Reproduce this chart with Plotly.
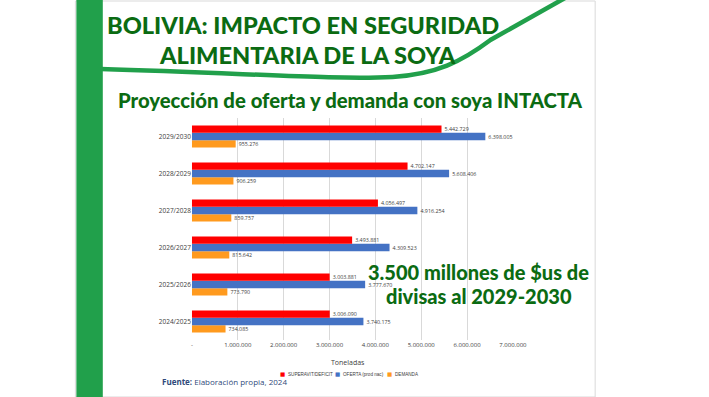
import plotly.graph_objects as go

W, H = 709, 397

categories = ["2024/2025", "2025/2026", "2026/2027", "2027/2028", "2028/2029", "2029/2030"]
superavit = [3006090, 3003881, 3493881, 4056497, 4702147, 5442729]
oferta = [3740175, 3777670, 4309523, 4916254, 5608406, 6398005]
demanda = [734085, 773790, 815642, 859757, 906259, 955276]
series_names = ["SUPERAVIT/DEFICIT", "OFERTA (prod nac)", "DEMANDA"]
tick_vals = [0, 1000000, 2000000, 3000000, 4000000, 5000000, 6000000, 7000000]
tick_text = ["-", "1.000.000", "2.000.000", "3.000.000", "4.000.000", "5.000.000", "6.000.000", "7.000.000"]

RED, BLUE, ORANGE = "#FF0000", "#4472C4", "#FF9A1E"
GREEN_BAR = "#21A04B"
DARK_GREEN = "#0B6B12"
HEAVY = "Lato Black, Lato Heavy, Lato"


def px(x):
    return x / W


def py(y):
    return 1 - y / H


fig = go.Figure()
for name, vals, col in [(series_names[2], demanda, ORANGE),
                        (series_names[1], oferta, BLUE),
                        (series_names[0], superavit, RED)]:
    fig.add_trace(go.Bar(
        y=categories, x=vals, orientation="h", name=name,
        marker=dict(color=col, line=dict(width=0)),
        texttemplate="%{x:,.0f}", textposition="outside",
        textfont=dict(size=6.5, color="#404040", family="Open Sans"),
        cliponaxis=False, showlegend=False,
    ))

shapes = []
shapes.append(dict(type="rect", xref="paper", yref="paper", x0=px(76), x1=px(607), y0=py(397), y1=py(1),
                   line=dict(color="#D9D9D9", width=1), fillcolor="rgba(0,0,0,0)", layer="below"))
shapes.append(dict(type="rect", xref="paper", yref="paper", x0=px(77), x1=px(104), y0=py(397), y1=py(0),
                   line=dict(width=0), fillcolor=GREEN_BAR, layer="above"))
pts = "M {},{} C {},{} {},{} {},{} C {},{} {},{} {},{} L {},{}".format(
    px(102), py(69), px(250), py(73), px(340), py(80), px(400), py(77),
    px(445), py(74), px(470), py(62), px(500), py(40), px(578), py(-3))
shapes.append(dict(type="path", xref="paper", yref="paper", path=pts,
                   line=dict(color=GREEN_BAR, width=4.5), layer="above"))


def txt(text, x, y, size, color, family=HEAVY, weight="normal", xanchor="center"):
    return dict(text=text, x=px(x), y=py(y), xref="paper", yref="paper", xanchor=xanchor, yanchor="middle",
                showarrow=False, font=dict(family=family, size=size, color=color, weight=weight))


ann = []
ann.append(txt("BOLIVIA: IMPACTO EN SEGURIDAD", 309, 25, 23.6, DARK_GREEN, weight=900))
ann.append(txt("ALIMENTARIA DE LA SOYA", 313, 55, 23.6, DARK_GREEN, weight=900))
ann.append(txt("Proyección de oferta y demanda con soya INTACTA", 357, 100, 20.3, DARK_GREEN, weight=900))
ann.append(txt("3.500 millones de $us de", 488, 272, 20, DARK_GREEN, weight=900))
ann.append(txt("divisas al 2029-2030", 488, 296, 20, DARK_GREEN, weight=900))
ann.append(txt("Toneladas", 355, 362, 7, "#404040", family="Open Sans"))
ann.append(txt("<b>Fuente:</b> Elaboración propia, 2024", 162, 381, 8, "#2F4A7A", family="Open Sans",
               xanchor="left"))
leg = [(series_names[0], RED, 288), (series_names[1], BLUE, 344), (series_names[2], ORANGE, 397)]
for name, col, x0 in leg:
    ann.append(txt("■", x0, 374, 5.5, col, family="DejaVu Sans"))
    ann.append(txt(name, x0 + 3, 374, 4.6, "#404040", family="Liberation Sans", xanchor="left"))

fig.update_layout(
    width=W, height=H, margin=dict(l=0, r=0, t=0, b=0),
    paper_bgcolor="white", plot_bgcolor="white",
    separators=",.",
    barmode="group", bargap=0.4, bargroupgap=0,
    showlegend=False,
    shapes=shapes, annotations=ann,
    xaxis=dict(domain=[px(195), px(523)], range=[0, 7000000], tickvals=tick_vals, ticktext=tick_text,
               showgrid=True, gridcolor="#D9D9D9", gridwidth=1, zeroline=False, showline=False,
               ticks="", tickfont=dict(family="Open Sans", size=6, color="#404040"), fixedrange=True),
    yaxis=dict(domain=[py(340), py(118)], type="category", categoryorder="array", categoryarray=categories,
               showgrid=False, zeroline=False, showline=False, ticks="",
               tickfont=dict(family="Open Sans", size=6.5, color="#404040"), fixedrange=True),
)

fig.write_html("out.html", config={"displayModeBar": False},
               post_script="document.body.style.margin='0';document.body.style.overflow='hidden';")
